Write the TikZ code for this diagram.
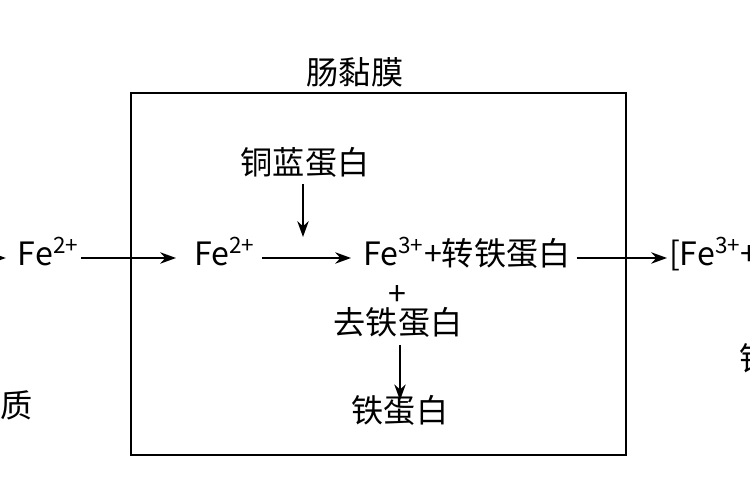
\documentclass[tikz,border=0pt]{standalone}
\usepackage{fontspec}
\setmainfont{Noto Sans CJK SC}
\usetikzlibrary{positioning, arrows.meta}

\begin{document}
\begin{tikzpicture}[
        lbl/.style={inner sep=1pt, text height=0.95em, text depth=0.15em, font=\fontsize{18.3}{21}\selectfont},
        flow/.style={line width=1pt, -{Stealth[length=9pt,width=6.5pt]}}]

                \useasboundingbox (0,0) rectangle (15,10);
                \clip (0,0) rectangle (15,10);

                %Mucosa box
                \draw[line width=1.3pt] (2.62,8.14) rectangle (12.52,0.90);
                \node[lbl] (mucosa) at (7.1,8.46) {肠黏膜};

                %Main row
                \coordinate (offl) at (-0.5,4.84);
                \node[lbl, anchor=east] (fea) at (1.62,4.84) {Fe\textsuperscript{2+}};
                \node[lbl, anchor=west] (feb) at (3.84,4.84) {Fe\textsuperscript{2+}};
                \node[lbl, anchor=west] (fec) at (7.22,4.84) {Fe\textsuperscript{3+}+转铁蛋白};
                \node[lbl, anchor=west] (fed) at (13.34,4.84) {[Fe\textsuperscript{3+}+转铁蛋白]};

                \draw[flow, shorten >=0.2cm] (offl) -- (fea.west);
                \draw[flow, shorten >=0.32cm] (fea.east) -- (feb.west);
                \draw[flow, shorten <=0.1cm, shorten >=0.2cm] (feb.east) -- (fec.west);
                \draw[flow, shorten <=0.08cm] (fec.east) -- (fed.west);

                %Ceruloplasmin
                \node[lbl] (lan) at (6.1,6.66) {铜蓝蛋白};
                \coordinate (hit) at (6.06,5.26);
                \draw[flow, shorten <=0.1cm] (lan.south -| hit) -- (hit);

                %Apoferritin to ferritin
                \node[lbl] (plus) at (7.94,4.04) {+};
                \node[lbl] (qu) at (7.96,3.46) {去铁蛋白};
                \node[lbl] (tie) at (8.0,1.70) {铁蛋白};
                \draw[flow, shorten <=0.12cm, shorten >=0.06cm] (qu.south -| tie) -- (tie.north);

                %Cut-off labels
                \node[lbl, anchor=west] (zhi) at (-0.04,1.8) {质};
                \node[lbl, anchor=west] (rgt) at (14.74,2.74) {铁};

\end{tikzpicture}
\end{document}
